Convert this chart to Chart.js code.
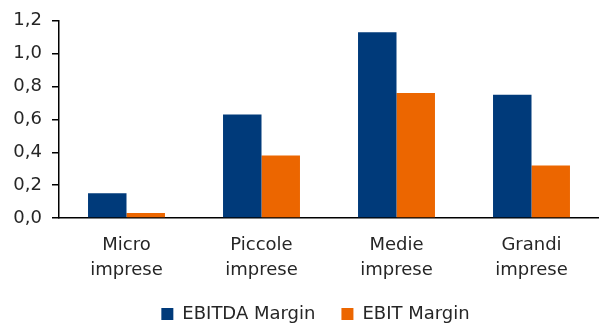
<!DOCTYPE html>
<html>
<head>
<meta charset="utf-8">
<script src="https://cdn.jsdelivr.net/npm/chart.js@4/dist/chart.umd.min.js"></script>
<style>
  html, body { margin: 0; padding: 0; background: #fff; overflow: hidden; }
  /* the legend's spacing runs a little past the bottom edge of the page */
  #wrap { width: 599px; height: 333px; }
</style>
</head>
<body>
<div id="wrap"><canvas id="marginChart"></canvas></div>
<script>
// margini per classe dimensionale
const categories = [['Micro', 'imprese'], ['Piccole', 'imprese'], ['Medie', 'imprese'], ['Grandi', 'imprese']];
const ebitdaMargin = [0.15, 0.63, 1.13, 0.75];
const ebitMargin = [0.03, 0.38, 0.76, 0.32];
const yTicks = [0, 0.2, 0.4, 0.6, 0.8, 1.0, 1.2];

const textColor = '#262626';
const family = '"DejaVu Sans", sans-serif';

// nudge the legend a bit to the right, closer to the middle of the plot area
const legendShift = {
    id: 'legendShift',
    afterLayout(chart) {
        const lg = chart.legend;
        if (!lg) return;
        lg.left += 16;
        lg.right += 16;
    }
};

new Chart(document.getElementById('marginChart'), {
    type: 'bar',
    data: {
        labels: categories,
        datasets: [
            { label: 'EBITDA Margin', data: ebitdaMargin, backgroundColor: '#003A7A',
              categoryPercentage: 0.57, barPercentage: 1.0 },
            { label: 'EBIT Margin', data: ebitMargin, backgroundColor: '#EC6600',
              categoryPercentage: 0.57, barPercentage: 1.0 }
        ]
    },
    plugins: [legendShift],
    options: {
        responsive: true,
        maintainAspectRatio: false,
        animation: false,
        layout: { padding: { top: 15, right: 0, left: 0, bottom: 0 } },
        scales: {
            x: {
                grid: { display: false },
                border: { display: true, color: '#000', width: 1.5 },
                ticks: { color: textColor, font: { family, size: 18, lineHeight: 1.39 }, maxRotation: 0, padding: 7 },
                afterFit: axis => { axis.height = 61; }
            },
            y: {
                min: 0, max: 1.2,
                afterBuildTicks: axis => { axis.ticks = yTicks.map(v => ({ value: v })); },
                afterFit: axis => { axis.width = 59; },
                grid: { drawOnChartArea: false, drawTicks: true, tickLength: 7, color: '#000', lineWidth: 1.5 },
                border: { display: true, color: '#000', width: 1.5 },
                ticks: {
                    color: textColor, font: { family, size: 18 }, padding: 10,
                    callback: v => v.toFixed(1).replace('.', ',')
                }
            }
        },
        plugins: {
            tooltip: { enabled: false },
            legend: {
                position: 'bottom',
                labels: { color: textColor, font: { family, size: 18, lineHeight: 1 }, boxWidth: 12, boxHeight: 12, padding: 26 }
            }
        }
    }
});
</script>
</body>
</html>
